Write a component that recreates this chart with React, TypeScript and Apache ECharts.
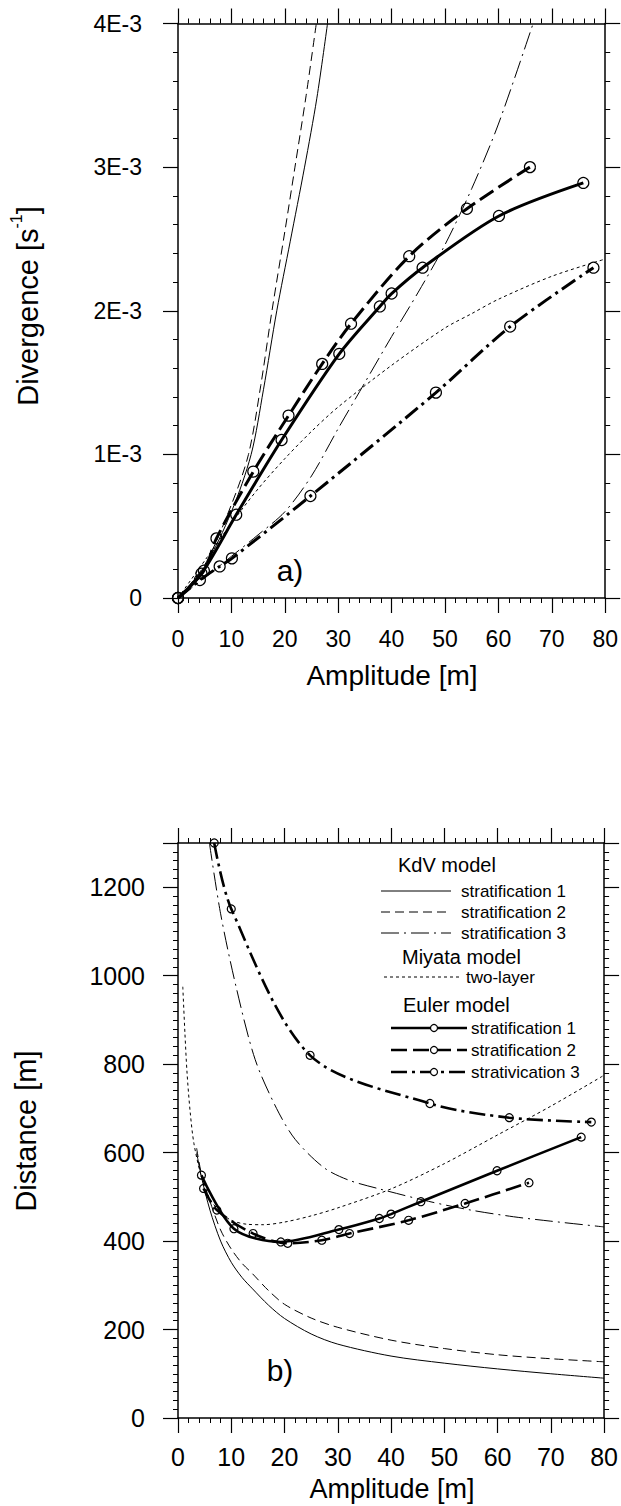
import React, { useEffect, useRef } from "react";
import * as echarts from "echarts";

const FONT = "Liberation Sans, Arial, Helvetica, sans-serif";

// ---------- panel a) Divergence [1E-3 s^-1] vs Amplitude [m] ----------
const ampA_KdV1 = [0, 5, 10, 13.7, 16, 18.5, 21, 23.7, 26, 28];
const divA_KdV1 = [0, 0.22, 0.6, 1.0, 1.45, 2.0, 2.48, 3.0, 3.48, 4.0];
const ampA_KdV2 = [0, 5, 10, 13.2, 15.5, 17.6, 20, 21.9, 24, 25.9];
const divA_KdV2 = [0, 0.23, 0.65, 1.0, 1.48, 2.0, 2.55, 3.0, 3.5, 4.0];
const ampA_KdV3 = [0, 5, 10, 15, 20, 25, 30, 35, 40, 45, 50, 55, 60, 66.5];
const divA_KdV3 = [0, 0.14, 0.29, 0.44, 0.6, 0.85, 1.18, 1.5, 1.82, 2.13, 2.46, 2.85, 3.3, 4.0];
const ampA_Miyata = [0, 5, 10, 15, 20, 25, 30, 40, 50, 55, 60, 70, 80];
const divA_Miyata = [0, 0.26, 0.52, 0.76, 0.97, 1.16, 1.33, 1.62, 1.88, 1.98, 2.08, 2.24, 2.36];
const ampA_Euler1 = [0, 4.4, 10.9, 19.4, 30.2, 37.8, 40, 45.8, 60.1, 75.9];
const divA_Euler1 = [0, 0.17, 0.58, 1.1, 1.7, 2.03, 2.12, 2.3, 2.66, 2.89];
const ampA_Euler2 = [0, 4.85, 7.2, 14.1, 20.7, 27, 32.4, 43.3, 54.1, 65.9];
const divA_Euler2 = [0, 0.19, 0.415, 0.88, 1.27, 1.63, 1.91, 2.38, 2.71, 3.0];
const ampA_Euler3 = [0, 4.1, 7.8, 10.1, 24.8, 48.3, 62.2, 77.8];
const divA_Euler3 = [0, 0.125, 0.22, 0.276, 0.71, 1.43, 1.89, 2.3];

// ---------- panel b) Distance [m] vs Amplitude [m] ----------
const ampB_KdV1 = [3.5, 4.4, 6, 8, 10, 12, 14, 17, 20, 25, 30, 40, 50, 60, 70, 80];
const distB_KdV1 = [600, 545, 470, 400, 352, 318, 292, 255, 225, 190, 167, 140, 124, 111, 100, 90];
const ampB_KdV2 = [3.5, 4.4, 6, 8, 10, 12, 14, 17, 20, 25, 30, 40, 50, 60, 70, 80];
const distB_KdV2 = [610, 552, 490, 425, 382, 350, 326, 288, 257, 226, 205, 176, 157, 143, 134, 127];
const ampB_KdV3 = [5.9, 8, 11, 14.5, 18.5, 22, 27.4, 32, 37.8, 47, 55, 63, 70, 80];
const distB_KdV3 = [1300, 1140, 970, 810, 700, 630, 566, 538, 518, 490, 470, 455, 445, 432];
const ampB_Miyata = [0.9, 1.3, 1.7, 2.3, 3, 4.4, 6, 8, 10, 13, 16, 20, 25, 30, 40, 50, 60, 70, 80];
const distB_Miyata = [975, 870, 780, 690, 620, 545, 495, 465, 447, 438, 437, 443, 457, 475, 518, 575, 640, 705, 775];
const ampB_Euler1 = [4.4, 10.5, 19.3, 30.2, 37.8, 40, 45.6, 59.9, 75.7];
const distB_Euler1 = [549, 428, 398, 426, 451, 461, 489, 559, 635];
const ampB_Euler2 = [4.8, 7.3, 14.1, 20.6, 27, 32.2, 43.3, 53.9, 65.9];
const distB_Euler2 = [519, 470, 417, 395, 402, 417, 447, 485, 532];
const ampB_Euler3 = [6.8, 10, 24.8, 47.3, 62.2, 77.6];
const distB_Euler3 = [1300, 1151, 820, 711, 679, 669];

const xTicks = { min: 0, max: 80, interval: 10 };
const yTicksA = { min: 0, max: 4, interval: 1 };
const yTicksB = { min: 0, max: 1300, interval: 200 };

const zip = (xs: number[], ys: number[]) => xs.map((x, i) => [x, ys[i]]);

const KDV1 = "solid" as any;
const KDV2 = [9, 5];
const KDV3 = [18, 5, 2, 5];
const MIY = [3, 3];
const EU2 = [16, 6];
const EU3 = [16, 5, 3, 5];

function axisCommon(showLabel: boolean, fontSize: number, margin: number) {
  return {
    axisLine: { show: true, onZero: false, lineStyle: { color: "#000", width: 1.5 } },
    axisTick: { show: true, inside: false, length: 15, lineStyle: { color: "#000", width: 1.2 } },
    minorTick: { show: true, length: 5, lineStyle: { color: "#000", width: 1 } },
    axisLabel: { show: showLabel, color: "#000", fontSize, fontFamily: FONT, margin, showMaxLabel: true },
    splitLine: { show: false },
    minorSplitLine: { show: false },
  };
}

function xAxis(gridIndex: number, position: string, showLabel: boolean, fontSize: number, margin: number) {
  const c: any = axisCommon(showLabel, fontSize, margin);
  c.minorTick.splitNumber = 5;
  return { type: "value", gridIndex, position, ...xTicks, ...c };
}

function yAxis(gridIndex: number, position: string, showLabel: boolean, fontSize: number, margin: number, ticks: any, split: number, fmt?: any) {
  const c: any = axisCommon(showLabel, fontSize, margin);
  c.minorTick.splitNumber = split;
  if (fmt) c.axisLabel.formatter = fmt;
  return { type: "value", gridIndex, position, ...ticks, ...c };
}

function thin(data: number[][], xi: number, type: any) {
  return {
    type: "line", xAxisIndex: xi, yAxisIndex: xi, data, symbol: "none", showSymbol: false,
    smooth: 0.3, silent: true, z: 2,
    lineStyle: { color: "#000", width: 1, type },
  };
}

function euler(data: number[][], xi: number, type: any, size: number, width: number) {
  return {
    type: "line", xAxisIndex: xi, yAxisIndex: xi, data, symbol: "circle", symbolSize: size, showSymbol: true,
    smooth: 0.3, silent: true, z: 3,
    itemStyle: { color: "rgba(0,0,0,0)", borderColor: "#000", borderWidth: 1.2 },
    lineStyle: { color: "#000", width, type },
  };
}

function legendLine(x1: number, x2: number, y: number, width: number, dash: any) {
  return {
    type: "line", shape: { x1, y1: y, x2, y2: y },
    style: { stroke: "#000", lineWidth: width, lineDash: dash === "solid" ? null : dash },
  };
}

function txt(text: string, x: number, y: number, size: number, align = "left") {
  return {
    type: "text", x, y,
    style: { text, fill: "#000", font: `${size}px ${FONT}`, align, verticalAlign: "middle" },
  };
}

export default function App() {
  const ref = useRef<HTMLDivElement>(null);
  useEffect(() => {
    const chart = echarts.init(ref.current!, null, { renderer: "svg" });
    const fmtA = (v: number) => (v === 0 ? "0" : `${v}E-3`);
    const fmtB = (v: number) => (v % 200 === 0 ? String(v) : "");
    const option: any = {
      animation: false,
      backgroundColor: "#fff",
      grid: [
        { left: 178, top: 23.5, width: 429, height: 574.5 },
        { left: 178, top: 843, width: 429, height: 575 },
      ],
      xAxis: [
        xAxis(0, "bottom", true, 23, 29),
        xAxis(0, "top", false, 23, 8),
        xAxis(1, "bottom", true, 25, 26),
        xAxis(1, "top", false, 25, 8),
      ],
      yAxis: [
        yAxis(0, "left", true, 23, 36, yTicksA, 5, fmtA),
        yAxis(0, "right", false, 23, 8, yTicksA, 5),
        yAxis(1, "left", true, 25, 33, yTicksB, 10, fmtB),
        yAxis(1, "right", false, 25, 8, yTicksB, 10),
      ],
      series: [
        thin(zip(ampA_KdV1, divA_KdV1), 0, KDV1),
        thin(zip(ampA_KdV2, divA_KdV2), 0, KDV2),
        thin(zip(ampA_KdV3, divA_KdV3), 0, KDV3),
        thin(zip(ampA_Miyata, divA_Miyata), 0, MIY),
        euler(zip(ampA_Euler1, divA_Euler1), 0, "solid", 11, 3),
        euler(zip(ampA_Euler2, divA_Euler2), 0, EU2, 11, 3),
        euler(zip(ampA_Euler3, divA_Euler3), 0, EU3, 11, 3),
        thin(zip(ampB_KdV1, distB_KdV1), 2, KDV1),
        thin(zip(ampB_KdV2, distB_KdV2), 2, KDV2),
        thin(zip(ampB_KdV3, distB_KdV3), 2, KDV3),
        thin(zip(ampB_Miyata, distB_Miyata), 2, MIY),
        euler(zip(ampB_Euler1, distB_Euler1), 2, "solid", 8, 2.6),
        euler(zip(ampB_Euler2, distB_Euler2), 2, EU2, 8, 2.6),
        euler(zip(ampB_Euler3, distB_Euler3), 2, EU3, 8, 2.6),
      ],
      graphic: [
        txt("Amplitude [m]", 392, 675, 28, "center"),
        txt("Amplitude [m]", 392, 1489, 27, "center"),
        {
          type: "text", x: 25, y: 306, rotation: Math.PI / 2,
          style: {
            text: "{a|Divergence [s}{b|-1}{a|]}", fill: "#000", align: "center", verticalAlign: "middle",
            rich: {
              a: { fontSize: 29, fontFamily: FONT, lineHeight: 34, verticalAlign: "bottom" },
              b: { fontSize: 16, fontFamily: FONT, lineHeight: 34, verticalAlign: "top" },
            },
          },
        },
        {
          type: "text", x: 26, y: 1131, rotation: Math.PI / 2,
          style: { text: "Distance [m]", fill: "#000", font: `29px ${FONT}`, align: "center", verticalAlign: "middle" },
        },
        txt("a)", 290, 570, 30, "center"),
        txt("b)", 280, 1370, 30, "center"),
        // legend
        txt("KdV model", 398, 865, 20),
        legendLine(381, 451, 891, 1, "solid"),
        txt("stratification 1", 461, 891, 17),
        legendLine(381, 451, 912, 1, KDV2),
        txt("stratification 2", 461, 912, 17),
        legendLine(381, 451, 933, 1, KDV3),
        txt("stratification 3", 461, 933, 17),
        txt("Miyata model", 402, 957, 20),
        legendLine(384, 459, 977, 1, MIY),
        txt("two-layer", 466, 977, 17),
        txt("Euler model", 403, 1005, 20),
        legendLine(391, 467, 1028, 2.6, "solid"),
        { type: "circle", shape: { cx: 434, cy: 1028, r: 3.5 }, style: { fill: "#fff", stroke: "#000", lineWidth: 1.2 } },
        txt("stratification 1", 471, 1028, 17),
        legendLine(391, 467, 1050, 2.6, EU2),
        { type: "circle", shape: { cx: 434, cy: 1050, r: 3.5 }, style: { fill: "#fff", stroke: "#000", lineWidth: 1.2 } },
        txt("stratification 2", 471, 1050, 17),
        legendLine(391, 467, 1072, 2.6, EU3),
        { type: "circle", shape: { cx: 434, cy: 1072, r: 3.5 }, style: { fill: "#fff", stroke: "#000", lineWidth: 1.2 } },
        txt("strativication 3", 471, 1072, 17),
      ],
    };
    chart.setOption(option);
    return () => chart.dispose();
  }, []);
  return (
    <div
      ref={ref}
      style={{ position: "absolute", left: 0, top: 0, width: 621, height: 1506, background: "#fff" }}
    />
  );
}
